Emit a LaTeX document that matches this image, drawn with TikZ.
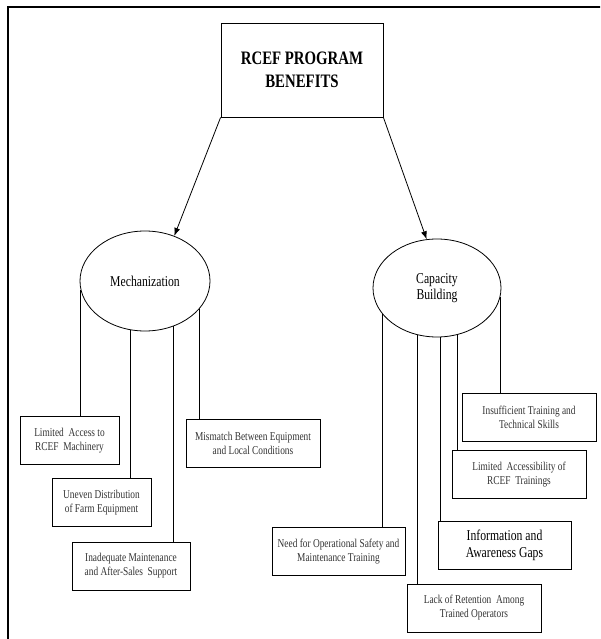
\documentclass[tikz,border=0pt]{standalone}
\usepackage{fontspec}
\setmainfont{Liberation Serif}[FakeStretch=0.78]
\usetikzlibrary{arrows.meta, shapes.geometric}

\tikzset{
  issue/.style={draw, rectangle, minimum height=48pt, inner sep=2pt, align=center,
    text=black!80, font=\fontsize{12}{14}\selectfont},
  theme/.style={draw, ellipse, inner sep=0pt, align=center,
    font=\fontsize{15}{16}\selectfont},
  link/.style={-{Latex[length=8pt,width=6pt]}}
}

\begin{document}
\begin{tikzpicture}[x=1pt, y=-1pt, line width=0.8pt]
\useasboundingbox (0,0) rectangle (600,639);
\clip (0,0) rectangle (600,639);
% Frame
\draw[line width=2.4pt] (8,7) rectangle (620,660);
% Top box and the two themes
\node[draw, minimum width=162pt, minimum height=94pt, align=center,
  font=\bfseries\fontsize{19}{23}\selectfont] (title) at (302,70) {RCEF PROGRAM\\BENEFITS};
\node[theme, minimum width=130pt, minimum height=100pt] (mech) at (145,281) {Mechanization};
\node[theme, minimum width=128pt, minimum height=98pt] (cap) at (437,288) {Capacity\\Building};
\draw[link] (title.south west) -- (mech.57);
\draw[link] (title.south east) -- (cap.102);
% Mechanization issues
\node[issue, minimum width=99pt] (acc) at (69.5,440.5) {Limited\ \ Access to\\RCEF\ \ Machinery};
\node[issue, minimum width=99pt] (unev) at (101.5,502.5) {Uneven Distribution\\of Farm Equipment};
\node[issue, minimum width=118pt] (inad) at (131,566) {Inadequate Maintenance\\and After-Sales\ \ Support};
\node[issue, minimum width=134pt] (mism) at (253,443.5) {Mismatch Between Equipment\\and Local Conditions};
\draw (mech.188) -- (mech.188 |- acc.north);
\draw (mech.253) -- (mech.253 |- unev.north);
\draw (mech.302) -- (mech.302 |- inad.north);
\draw (mech.333) -- (mech.333 |- mism.north);
% Capacity building issues
\node[issue, minimum width=133pt] (need) at (338.5,551.5) {Need for Operational Safety and\\Maintenance Training};
\node[issue, minimum width=134pt] (lack) at (474,608) {Lack of Retention\ \ Among\\Trained Operators};
\node[issue, minimum width=133pt, text=black, font=\fontsize{15}{17}\selectfont] (info) at (504.5,545.5) {Information and\\Awareness Gaps};
\node[issue, minimum width=134pt] (lacc) at (519,474.5) {Limited\ \ Accessibility of\\RCEF\ \ Trainings};
\node[issue, minimum width=134pt] (insu) at (529,417) {Insufficient Training and\\Technical Skills};
\draw (cap.205) -- (cap.205 |- need.north);
\draw (cap.247) -- (cap.247 |- lack.north);
\draw (cap.274) -- (cap.274 |- info.north);
\draw (cap.294) -- (cap.294 |- lacc.north);
\draw (cap.352) -- (cap.352 |- insu.north);
\end{tikzpicture}
\end{document}
